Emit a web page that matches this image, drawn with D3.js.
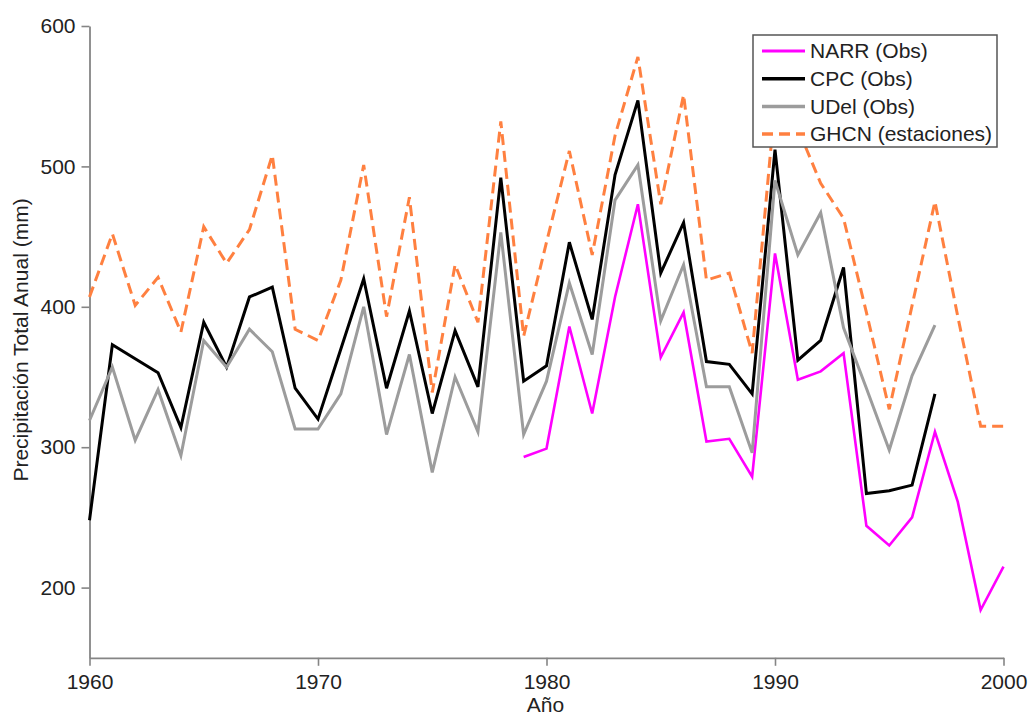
<!DOCTYPE html>
<html>
<head>
<meta charset="utf-8">
<script src="https://cdn.jsdelivr.net/npm/d3@7"></script>
<style>
  html, body { margin: 0; padding: 0; background: #fff; }
  svg { display: block; }
  text { font-family: "Liberation Sans", Arial, sans-serif; fill: #222; }
</style>
</head>
<body>
<svg id="chart" width="1031" height="715"></svg>
<script>
// Annual total precipitation (mm) per dataset
const yearsNARR = d3.range(1979, 2001);
const valuesNARR = [293, 299, 386, 324, 407, 473, 364, 396, 304, 306, 279,
                    438, 348, 354, 367, 244, 230, 250, 311, 261, 184, 215];

const yearsCPC = d3.range(1960, 1998);
const valuesCPC = [248, 373, 363, 353, 314, 389, 357, 407, 414, 342,
                   320, 370, 420, 342, 397, 324, 383, 343, 492, 347,
                   358, 446, 391, 494, 547, 424, 460, 361, 359, 338,
                   512, 362, 376, 428, 267, 269, 273, 338];

const yearsUDel = d3.range(1960, 1998);
const valuesUDel = [319, 357, 305, 341, 294, 376, 357, 384, 368, 313,
                    313, 338, 400, 309, 366, 282, 350, 311, 453, 309,
                    347, 417, 366, 476, 501, 390, 430, 343, 343, 296,
                    490, 437, 467, 385, 342, 298, 351, 387];

const yearsGHCN = d3.range(1960, 2001);
const valuesGHCN = [407, 452, 401, 421, 382, 457, 431, 455, 508, 384,
                    376, 419, 501, 393, 478, 339, 430, 389, 532, 379,
                    446, 511, 437, 522, 578, 473, 551, 419, 424, 367,
                    545, 527, 488, 463, 396, 327, 401, 475, 393, 315, 315];

const seriesNames = ["NARR (Obs)", "CPC (Obs)", "UDel (Obs)", "GHCN (estaciones)"];
const xTicks = [1960, 1970, 1980, 1990, 2000];
const yTicks = [200, 300, 400, 500, 600];

const series = [
  { name: seriesNames[0], years: yearsNARR, values: valuesNARR, color: "#ff00ff", width: 2.6, dash: null },
  { name: seriesNames[1], years: yearsCPC,  values: valuesCPC,  color: "#000000", width: 3,   dash: null },
  { name: seriesNames[2], years: yearsUDel, values: valuesUDel, color: "#9c9c9c", width: 3,   dash: null },
  { name: seriesNames[3], years: yearsGHCN, values: valuesGHCN, color: "#ff8040", width: 3,   dash: "11,6" }
];

const FONT = "21px";

const svg = d3.select("#chart");

const x = d3.scaleLinear().domain([1960, 2000]).range([89.5, 1003.5]);
const y = d3.scaleLinear().domain([150, 600]).range([657.8, 26]);

// Axes
const xAxis = d3.axisBottom(x).tickValues(xTicks).tickFormat(d3.format("d"))
  .tickSize(8).tickSizeOuter(0).tickPadding(8);
const yAxis = d3.axisLeft(y).tickValues(yTicks).tickFormat(d3.format("d"))
  .tickSize(8).tickSizeOuter(0).tickPadding(6);

const gx = svg.append("g").attr("transform", `translate(0,${y(150)})`).call(xAxis);
const gy = svg.append("g").attr("transform", `translate(${x(1960)},0)`).call(yAxis);

[gx, gy].forEach(g => {
  g.select(".domain").attr("stroke", "#858585").attr("stroke-width", 1.8);
  g.selectAll(".tick line").attr("stroke", "#858585").attr("stroke-width", 1.6);
  g.selectAll(".tick text").style("font-size", FONT)
    .style("font-family", "'Liberation Sans', Arial, sans-serif").attr("fill", "#222");
});

// Axis titles
svg.append("text")
  .attr("x", x(1980) - 1).attr("y", 712)
  .attr("text-anchor", "middle")
  .style("font-size", FONT)
  .text("Año");

svg.append("text")
  .attr("transform", `translate(28,${340}) rotate(-90)`)
  .attr("text-anchor", "middle")
  .style("font-size", FONT)
  .text("Precipitación Total Anual (mm)");

// Lines
const line = d3.line().x(d => x(d[0])).y(d => y(d[1]));

series.forEach(s => {
  const pts = s.years.map((yr, i) => [yr, s.values[i]]);
  svg.append("path")
    .datum(pts)
    .attr("d", line)
    .attr("fill", "none")
    .attr("stroke", s.color)
    .attr("stroke-width", s.width)
    .attr("stroke-linejoin", "miter")
    .attr("stroke-dasharray", s.dash);
});

// Legend
const lg = svg.append("g").attr("transform", "translate(753,35)");
lg.append("rect")
  .attr("width", 244).attr("height", 112)
  .attr("fill", "#fff").attr("stroke", "#555").attr("stroke-width", 1.5);

series.forEach((s, i) => {
  const cy = 16 + i * 27.7;
  lg.append("line")
    .attr("x1", 9).attr("x2", 52)
    .attr("y1", cy).attr("y2", cy)
    .attr("stroke", s.color)
    .attr("stroke-width", s.width + 0.5)
    .attr("stroke-dasharray", s.dash);
  lg.append("text")
    .attr("x", 57).attr("y", cy)
    .attr("dy", "0.35em")
    .style("font-size", FONT)
    .text(s.name);
});
</script>
</body>
</html>
